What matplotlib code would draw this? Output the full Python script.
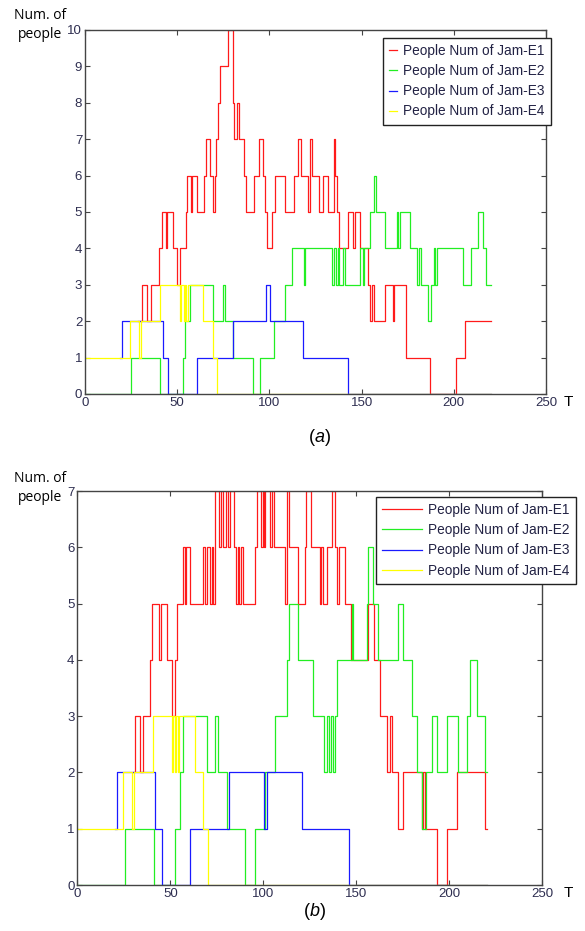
import matplotlib
matplotlib.use("Agg")
import matplotlib.pyplot as plt

# ---- data: change points (time, value) of each step curve ----
# panel (a)
a_e1_t = [29, 30.7, 33.4, 35.6, 40.3, 41.6, 43.9, 44.6, 47.9, 49.7, 51.5, 54.7, 55.1, 57.5, 58.2, 60.5,
          64.7, 65.6, 67.8, 69.6, 70.5, 71, 71.9, 73.2, 77.7, 80, 81, 82.5, 83.5, 86, 87.5, 91.5, 94.5,
          96.5, 97.5, 98.5, 101.5, 103, 108.5, 113.5, 115.5, 117, 121, 122, 123, 127, 129, 132, 135,
          135.8, 136.5, 138, 142.5, 145.5, 146.5, 149, 153.5, 154.5, 155.5, 156.5, 162.5, 167, 167.5,
          174, 187, 201, 206, 220]
a_e1_v = [2, 3, 2, 3, 4, 5, 4, 5, 4, 3, 4, 5, 6, 5, 6, 5,
          6, 7, 6, 5, 6, 7, 8, 9, 10, 8, 7, 8, 7, 6, 5, 6, 7,
          6, 5, 4, 5, 6, 5, 6, 7, 6, 5, 7, 6, 5, 6, 5, 7,
          6, 5, 4, 5, 4, 5, 4, 3, 2, 3, 2, 3, 2, 3,
          1, 0, 1, 2, 2]

a_e2_t = [0, 25, 40.5, 53, 54, 57, 69.5, 75, 75.8, 80.5, 91, 95, 102.5, 108.5, 112, 118.5, 119.5,
          134, 135, 136, 137, 138, 140, 141, 149, 150.5, 151.5, 154.5, 156.5, 158, 162.5, 169, 170,
          171, 176, 180, 181, 182, 186, 187.5, 189, 190, 191, 205, 209.5, 213, 216, 217.5, 220]
a_e2_v = [0, 1, 0, 1, 2, 3, 2, 3, 2, 1, 0, 1, 2, 3, 4, 3, 4,
          3, 4, 3, 4, 3, 4, 3, 4, 3, 4, 5, 6, 5, 4, 5, 4,
          5, 4, 3, 4, 3, 2, 3, 4, 3, 4, 3, 4, 5, 4, 3, 3]

a_e3_t = [19, 20, 42.5, 45, 60.5, 80, 98.3, 100.3, 118.2, 142.7, 220]
a_e3_v = [1, 2, 1, 0, 1, 2, 3, 2, 1, 0, 0]

a_e4_t = [0, 24.5, 29.5, 30.3, 40.6, 51.5, 52.3, 53.5, 54.2, 55, 55.8, 64, 69.6, 71.4, 220]
a_e4_v = [1, 2, 1, 2, 3, 2, 3, 2, 3, 2, 3, 2, 1, 0, 0]

# panel (b)
b_e1_t = [30, 31, 33.5, 35.5, 39.3, 40, 44, 45, 48, 50.7, 52.5, 53.4, 57, 57.8, 58.7, 60.6, 67.8,
          68.7, 69.6, 71.4, 72.3, 73, 74, 76, 77.5, 78.5, 80, 81, 82, 84.5, 85.5, 86.5, 87.2, 88, 89,
          95.5, 96.4, 99, 99.6, 100.3, 101, 103.6, 104.5, 105.5, 111.7, 112.6, 114, 118.8, 122.4,
          123, 125.5, 130.4, 131.2, 132, 134.5, 136.7, 138.5, 139.5, 140.5, 144, 147, 156.5, 159.5,
          163, 166.3, 168.3, 169, 172.6, 175.3, 185.2, 186, 186.8, 193.2, 198.9, 204.3, 219.2, 220]
b_e1_v = [2, 3, 2, 3, 4, 5, 4, 5, 4, 3, 4, 5, 6, 5, 6, 5, 6,
          5, 6, 5, 6, 5, 7, 6, 7, 6, 7, 6, 7, 6, 5, 6, 5, 6, 5,
          6, 7, 6, 7, 6, 7, 6, 7, 6, 5, 7, 6, 5, 6,
          7, 6, 5, 6, 5, 6, 7, 6, 5, 6, 5, 4, 5, 4,
          3, 2, 3, 2, 1, 2, 1, 2, 1, 0, 1, 2, 1, 1]

b_e2_t = [0, 25.7, 41.2, 52.5, 55, 57, 69.5, 74, 75.5, 80.3, 90.1, 95.5, 101, 106.5, 112.6, 114,
          118.9, 126.9, 132.5, 134.5, 135.3, 136.5, 137.3, 138.5, 139.4, 147.5, 148.4, 155.5, 156.4,
          158.8, 161.8, 172.5, 175.3, 179.8, 182.5, 185.5, 187.5, 190.5, 193.2, 198.6, 204.8, 209.3,
          211, 214.7, 219.2, 220]
b_e2_v = [0, 1, 0, 1, 2, 3, 2, 3, 2, 1, 0, 1, 2, 3, 4, 5,
          4, 3, 2, 3, 2, 3, 2, 3, 4, 5, 4, 5, 6,
          5, 4, 5, 4, 3, 2, 1, 2, 3, 2, 3, 2, 3,
          4, 3, 2, 2]

b_e3_t = [20.3, 21.2, 41.8, 45.4, 60.6, 81.5, 100.5, 101.8, 120.6, 146, 220]
b_e3_v = [1, 2, 1, 0, 1, 2, 1, 2, 1, 0, 0]

b_e4_t = [0, 24.8, 29.5, 30.5, 40.9, 50.7, 51.5, 52.5, 53.2, 54, 54.8, 63.3, 67.8, 70.4, 220]
b_e4_v = [1, 2, 1, 2, 3, 2, 3, 2, 3, 2, 3, 2, 1, 0, 0]

labels = ["People Num of Jam-E1", "People Num of Jam-E2", "People Num of Jam-E3", "People Num of Jam-E4"]
colors = ["#ff1a1a", "#22ee22", "#1a1aff", "#ffff00"]
x_ticks = [0, 50, 100, 150, 200, 250]

plt.rcParams['font.family'] = ['Liberation Sans', 'DejaVu Sans']
tick_col = "#2e2e50"

fig = plt.figure(figsize=(5.85, 9.31), dpi=100)
ax1 = fig.add_axes([85 / 585, 1 - 394 / 931, 461 / 585, 364 / 931])
ax2 = fig.add_axes([77.3 / 585, 1 - 885 / 931, 465 / 585, 394 / 931])


def draw(ax, series, ymax, leg_pos, hlen):
    for (t, v), c, lab in zip(series, colors, labels):
        ax.step(t, v, where="post", color=c, lw=0.9, label=lab)
    ax.set_xlim(0, 250)
    ax.set_ylim(0, ymax)
    ax.set_xticks(x_ticks)
    ax.set_yticks(range(ymax + 1))
    ax.tick_params(direction="in", top=True, right=True, length=3.5, width=0.8,
                   labelsize=9.5, labelcolor=tick_col, color="#444444", pad=2)
    for s in ax.spines.values():
        s.set_color("#444444")
        s.set_linewidth(1.0)
    leg = ax.legend(loc="upper left", bbox_to_anchor=leg_pos, bbox_transform=fig.transFigure,
                    fontsize=9.8, handlelength=hlen, handletextpad=0.5, labelspacing=0.45,
                    fancybox=False, framealpha=1, borderpad=0.45, borderaxespad=0)
    leg.get_frame().set_edgecolor("#222222")
    leg.get_frame().set_linewidth(1.0)
    for txt in leg.get_texts():
        txt.set_color("#222244")


draw(ax1, [(a_e1_t, a_e1_v), (a_e2_t, a_e2_v), (a_e3_t, a_e3_v), (a_e4_t, a_e4_v)],
     10, (383 / 585, 1 - 38 / 931), 0.55)
draw(ax2, [(b_e1_t, b_e1_v), (b_e2_t, b_e2_v), (b_e3_t, b_e3_v), (b_e4_t, b_e4_v)],
     7, (376 / 585, 1 - 497 / 931), 2.9)

# axis labels
for yc in (1 - 25 / 931, 1 - 488 / 931):
    fig.text(40 / 585, yc, "Num. of\npeople", ha="center", va="center", fontsize=10,
             family=["Open Sans", "DejaVu Sans"], linespacing=1.3)
fig.text(568 / 585, 1 - 402 / 931, "T", ha="center", va="center", fontsize=11)
fig.text(568 / 585, 1 - 893 / 931, "T", ha="center", va="center", fontsize=11)

fig.text(315 / 585, 1 - 438 / 931, "(", ha="right", va="center", fontsize=13)
fig.text(315 / 585, 1 - 438 / 931, "a", ha="left", va="center", fontsize=13, style="italic")
fig.text(325 / 585, 1 - 438 / 931, ")", ha="left", va="center", fontsize=13)
fig.text(310 / 585, 1 - 912 / 931, "(", ha="right", va="center", fontsize=13)
fig.text(310 / 585, 1 - 912 / 931, "b", ha="left", va="center", fontsize=13, style="italic")
fig.text(320 / 585, 1 - 912 / 931, ")", ha="left", va="center", fontsize=13)

fig.savefig("out.png", dpi=100)
